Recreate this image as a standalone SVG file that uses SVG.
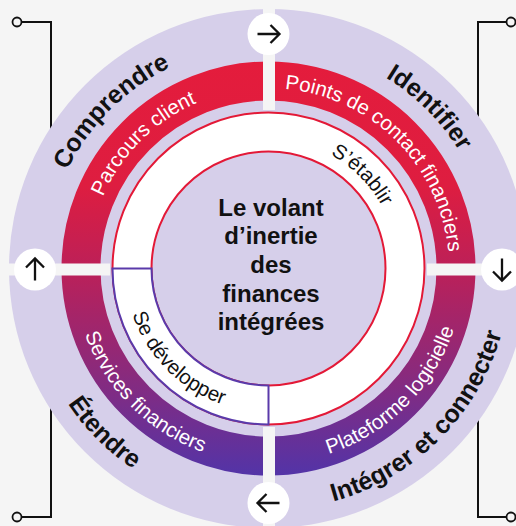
<svg xmlns="http://www.w3.org/2000/svg" width="516" height="526" viewBox="0 0 516 526">
<defs>
<style>
.bg{fill:#f5f5f5}
.brk{fill:none;stroke:#111;stroke-width:2}
.dot{fill:#f5f5f5;stroke:#111;stroke-width:1.8}
.gap{fill:#f5f5f5}
.arrowbg{fill:#ffffff}
.arrow{fill:none;stroke:#111;stroke-width:2.3;stroke-linejoin:miter}
.lbl{font-family:"Liberation Sans",Arial,sans-serif;font-weight:bold;font-size:25px;fill:#111}
.rtxt{font-family:"Liberation Sans",Arial,sans-serif;font-size:20.5px;fill:#ffffff}
.itxt{font-family:"Liberation Sans",Arial,sans-serif;font-size:20.5px;fill:#111}
.ctxt{font-family:"Liberation Sans",Arial,sans-serif;font-weight:bold;font-size:24px;fill:#111;text-anchor:middle}
</style>
<linearGradient id="ringGrad" gradientUnits="userSpaceOnUse" x1="0" y1="60" x2="0" y2="477">
<stop offset="0" stop-color="#e41c3c"/>
<stop offset="0.3" stop-color="#de1d40"/>
<stop offset="0.5" stop-color="#bc2058"/>
<stop offset="0.75" stop-color="#8a2a7c"/>
<stop offset="1" stop-color="#5234a8"/>
</linearGradient>
<path id="lavU" d="M 44.5 268.5 A 224 224 0 0 1 492.5 268.5"/>
<path id="lavL" d="M 26.5 268.5 A 242 242 0 0 0 510.5 268.5"/>
<path id="redU" d="M 88 268.5 A 180.5 180.5 0 0 1 449 268.5"/>
<path id="redL" d="M 73.5 268.5 A 195 195 0 0 0 463.5 268.5"/>
<path id="inU" d="M 139 268.5 A 129.5 129.5 0 0 1 398 268.5"/>
<path id="inL" d="M 125 268.5 A 143.5 143.5 0 0 0 412 268.5"/>
</defs>
<rect class="bg" x="0" y="0" width="516" height="526"/>

<g id="brackets">
<circle class="dot" cx="17" cy="22" r="4.5"/>
<path class="brk" d="M 21.5 22 H 51 V 200"/>
<circle class="dot" cx="511" cy="22" r="4.5"/>
<path class="brk" d="M 506.5 22 H 478 V 200"/>
<circle class="dot" cx="17" cy="517" r="4.5"/>
<path class="brk" d="M 21.5 517 H 51 V 340"/>
<circle class="dot" cx="511" cy="517" r="4.5"/>
<path class="brk" d="M 506.5 517 H 478 V 340"/>
</g>

<g id="outer-ring">
<circle cx="268.5" cy="268.5" r="259.5" fill="#d6cfea"/>
<circle cx="268.5" cy="268.5" r="187.5" fill="none" stroke="url(#ringGrad)" stroke-width="39"/>
<rect class="gap" x="263" y="0" width="12" height="110"/>
<rect class="gap" x="263" y="427" width="12" height="99"/>
<rect class="gap" x="0" y="263.5" width="110" height="12"/>
<rect class="gap" x="427" y="263.5" width="89" height="12"/>
</g>

<g id="inner-band">
<circle cx="268.5" cy="268.5" r="136.5" fill="none" stroke="#ffffff" stroke-width="39"/>
<circle cx="268.5" cy="268.5" r="156" fill="none" stroke="#e31937" stroke-width="2"/>
<circle cx="268.5" cy="268.5" r="117" fill="none" stroke="#e31937" stroke-width="2"/>
</g>

<g id="se-developper-segment">
<path d="M 112.5 268.5 L 151.5 268.5 A 117 117 0 0 0 268.5 385.5 L 268.5 424.5 A 156 156 0 0 1 112.5 268.5 Z" fill="#ffffff" stroke="#5a3aaa" stroke-width="2"/>
</g>

<g id="node-comprendre">
<text class="lbl"><textPath href="#lavU" startOffset="25%" text-anchor="middle">Comprendre</textPath></text>
</g>
<g id="node-identifier">
<text class="lbl"><textPath href="#lavU" startOffset="75%" text-anchor="middle">Identifier</textPath></text>
</g>
<g id="node-integrer">
<text class="lbl"><textPath href="#lavL" startOffset="75%" text-anchor="middle">Intégrer et connecter</textPath></text>
</g>
<g id="node-etendre">
<text class="lbl"><textPath href="#lavL" startOffset="25%" text-anchor="middle">Étendre</textPath></text>
</g>

<g id="node-parcours">
<text class="rtxt"><textPath href="#redU" startOffset="25%" text-anchor="middle">Parcours client</textPath></text>
</g>
<g id="node-points">
<text class="rtxt"><textPath href="#redU" startOffset="75%" text-anchor="middle">Points de contact financiers</textPath></text>
</g>
<g id="node-plateforme">
<text class="rtxt"><textPath href="#redL" startOffset="75%" text-anchor="middle">Plateforme logicielle</textPath></text>
</g>
<g id="node-services">
<text class="rtxt"><textPath href="#redL" startOffset="25%" text-anchor="middle">Services financiers</textPath></text>
</g>

<g id="node-etablir">
<text class="itxt"><textPath href="#inU" startOffset="75%" text-anchor="middle">S’établir</textPath></text>
</g>
<g id="node-developper">
<text class="itxt"><textPath href="#inL" startOffset="25%" text-anchor="middle">Se développer</textPath></text>
</g>

<g id="node-center">
<text class="ctxt" x="271" y="215.5">Le volant</text>
<text class="ctxt" x="271" y="244">d’inertie</text>
<text class="ctxt" x="271" y="272.5">des</text>
<text class="ctxt" x="271" y="301.5">finances</text>
<text class="ctxt" x="271" y="330">intégrées</text>
</g>

<g id="connectors">
<circle class="arrowbg" cx="268.5" cy="34" r="21"/>
<path class="arrow" d="M 257.5 34 H 279.5 M 270.5 25 L 279.5 34 L 270.5 43"/>
<circle class="arrowbg" cx="502" cy="269.5" r="21"/>
<path class="arrow" d="M 502 258.5 V 280.5 M 493 271.5 L 502 280.5 L 511 271.5"/>
<circle class="arrowbg" cx="268.5" cy="503" r="21"/>
<path class="arrow" d="M 279.5 503 H 257.5 M 266.5 494 L 257.5 503 L 266.5 512"/>
<circle class="arrowbg" cx="35" cy="269.5" r="21"/>
<path class="arrow" d="M 35 280.5 V 258.5 M 26 267.5 L 35 258.5 L 44 267.5"/>
</g>
</svg>
